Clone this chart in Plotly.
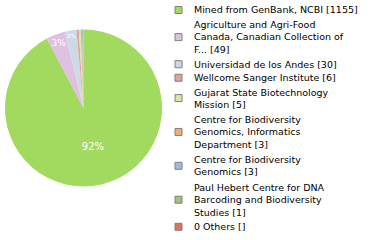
import math
import plotly.graph_objects as go

labels = [
    "Mined from GenBank, NCBI",
    "Agriculture and Agri-Food<br>Canada, Canadian Collection of<br>F...",
    "Universidad de los Andes",
    "Wellcome Sanger Institute",
    "Gujarat State Biotechnology<br>Mission",
    "Centre for Biodiversity<br>Genomics, Informatics<br>Department",
    "Centre for Biodiversity<br>Genomics",
    "Paul Hebert Centre for DNA<br>Barcoding and Biodiversity<br>Studies",
    "0 Others",
]
values = [1155, 49, 30, 6, 5, 3, 3, 1, 0]
colors = ["#a2d95f", "#dfc0e0", "#cdd9e5", "#dca59a", "#dfe39f",
          "#f2ab73", "#9ebde0", "#9dc27a", "#e0735a"]

W, H = 380, 240
total = sum(values)
pct_text = [f"{math.floor(v * 100 / total)}%" if i < 3 else "" for i, v in enumerate(values)]

# pie geometry (pixels)
cx, cy, r = 83.5, 108, 78.5

fig = go.Figure()
fig.add_trace(go.Pie(
    values=values,
    labels=[l.replace("<br>", " ") for l in labels],
    text=pct_text,
    textinfo="text",
    textposition="inside",
    insidetextorientation="horizontal",
    textfont=dict(family="DejaVu Sans", size=10, color="white"),
    marker=dict(colors=colors, line=dict(width=0)),
    sort=False,
    direction="clockwise",
    rotation=0,
    hoverinfo="none",
    showlegend=False,
    domain=dict(x=[(cx - r) / W, (cx + r) / W], y=[(H - cy - r) / H, (H - cy + r) / H]),
))

# custom legend
P = 13.55
y0 = 10
sq_x0, sq_x1 = 175, 182
text_x = 192
shapes = []
annotations = []
cum = 0
for lab, v, col in zip(labels, values, colors):
    n = lab.count("<br>") + 1
    yc = y0 + P * (cum + (n - 1) / 2)
    cum += n
    shapes.append(dict(type="rect", xref="paper", yref="paper",
                       x0=sq_x0 / W, x1=sq_x1 / W,
                       y0=(H - yc - 3.5) / H, y1=(H - yc + 3.5) / H,
                       fillcolor=col, line=dict(color="#808080", width=1)))
    annotations.append(dict(xref="paper", yref="paper", x=text_x / W, y=(H - yc) / H,
                            xanchor="left", yanchor="middle", align="left",
                            showarrow=False,
                            text=f"{lab} [{v if v else ''}]",
                            font=dict(family="DejaVu Sans", size=9.5, color="#000000")))

fig.update_layout(
    width=W, height=H,
    margin=dict(l=0, r=0, t=0, b=0),
    paper_bgcolor="white", plot_bgcolor="white",
    shapes=shapes, annotations=annotations,
)
fig.write_html("out.html")
